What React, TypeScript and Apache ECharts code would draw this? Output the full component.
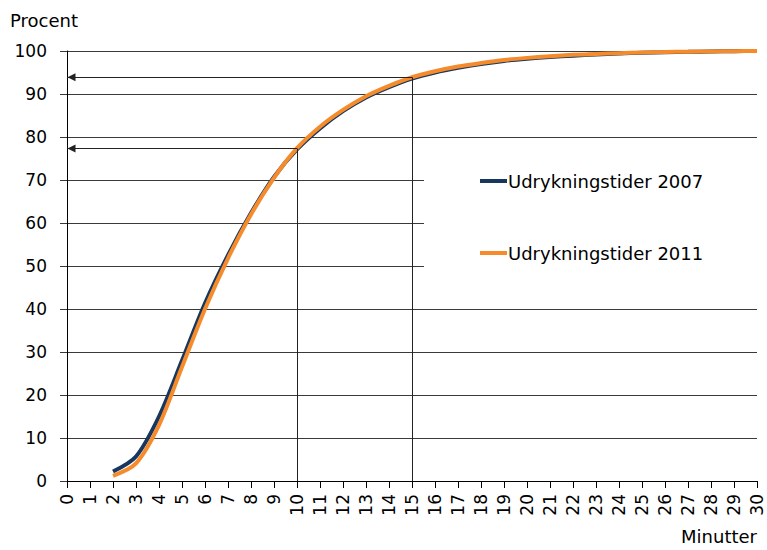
import React, { useEffect, useRef } from "react";
import * as echarts from "echarts";

const minutes = [2, 3, 4, 5, 6, 7, 8, 9, 10, 11, 12, 13, 14, 15, 16, 17, 18, 19, 20, 21, 22, 23, 24, 25, 26, 27, 28, 29, 30];
const times2007 = [2.2, 5.7, 15, 28, 41.3, 52.5, 62.3, 70.7, 77.1, 82, 86, 89.2, 91.6, 93.6, 95, 96.1, 97, 97.7, 98.2, 98.6, 98.9, 99.2, 99.4, 99.6, 99.7, 99.8, 99.9, 99.95, 100];
const times2011 = [1.2, 4.1, 13, 26.5, 40, 51.8, 62, 70.5, 77.4, 82.4, 86.3, 89.5, 91.9, 93.9, 95.3, 96.4, 97.2, 97.9, 98.4, 98.8, 99.1, 99.3, 99.5, 99.65, 99.75, 99.85, 99.9, 99.95, 100];
const seriesNames = ["Udrykningstider 2007", "Udrykningstider 2011"];
const markerMinutes = [10, 15];
const markerPercents = [77.3, 93.9];

const FONT = "DejaVu Sans";

export default function App() {
  const ref = useRef<HTMLDivElement>(null);
  useEffect(() => {
    if (!ref.current) return;
    const chart = echarts.init(ref.current, undefined, { renderer: "svg" });
    const markData: any[] = [];
    markerMinutes.forEach((m, i) => {
      markData.push([
        { coord: [m, markerPercents[i]], symbol: "none" },
        { coord: [m, 0], symbol: "none" },
      ]);
      markData.push([
        { coord: [m, markerPercents[i]], symbol: "none" },
        {
          coord: [0, markerPercents[i]],
          symbol: "triangle",
          symbolSize: [8, 8],
          symbolOffset: [0, 4.5],
        },
      ]);
    });
    chart.setOption({
      animation: false,
      grid: { left: 67, right: 10, top: 51, bottom: 69 },
      xAxis: {
        type: "value",
        min: 0,
        max: 30,
        interval: 1,
        axisLine: { show: true, lineStyle: { color: "#000", width: 1 } },
        axisTick: { show: true, length: 7, lineStyle: { color: "#000" } },
        splitLine: { show: false },
        axisLabel: { rotate: 90, fontSize: 17, color: "#000", fontFamily: FONT, margin: 13 },
      },
      yAxis: {
        type: "value",
        min: 0,
        max: 100,
        interval: 10,
        axisLine: { show: true, lineStyle: { color: "#000", width: 1 } },
        axisTick: { show: true, length: 7, lineStyle: { color: "#3a3a3a" } },
        splitLine: { show: true, lineStyle: { color: "#3a3a3a", width: 1 } },
        axisLabel: { fontSize: 17, color: "#000", fontFamily: FONT, margin: 20 },
      },
      legend: {
        orient: "vertical",
        left: 480,
        top: 172,
        padding: 0,
        itemGap: 54,
        icon: "rect",
        itemWidth: 27,
        itemHeight: 4,
        textStyle: { fontSize: 18, color: "#000", fontFamily: FONT, padding: [0, 0, 0, -4] },
        data: seriesNames,
      },
      graphic: [
        {
          type: "rect",
          z: 1,
          shape: { x: 424, y: 141, width: 340, height: 163 },
          style: { fill: "#fff" },
        },
        {
          type: "text",
          left: 10,
          top: 11,
          style: { text: "Procent", fontSize: 18, fill: "#000", fontFamily: FONT },
        },
        {
          type: "text",
          right: 10,
          top: 527,
          style: { text: "Minutter", fontSize: 18, fill: "#000", fontFamily: FONT },
        },
      ],
      series: [
        {
          name: seriesNames[0],
          type: "line",
          smooth: 0.3,
          symbol: "none",
          z: 3,
          lineStyle: { color: "#17375E", width: 4 },
          itemStyle: { color: "#17375E" },
          data: minutes.map((m, i) => [m, times2007[i]]),
          markLine: {
            silent: true,
            symbol: ["none", "none"],
            label: { show: false },
            lineStyle: { color: "#222", width: 1, type: "solid" },
            emphasis: { disabled: true },
            data: markData,
          },
        },
        {
          name: seriesNames[1],
          type: "line",
          smooth: 0.3,
          symbol: "none",
          z: 4,
          lineStyle: { color: "#F68B2C", width: 4 },
          itemStyle: { color: "#F68B2C" },
          data: minutes.map((m, i) => [m, times2011[i]]),
        },
      ],
    });
    return () => chart.dispose();
  }, []);
  return (
    <div
      ref={ref}
      style={{ position: "fixed", left: 0, top: 0, width: 767, height: 550, background: "#fff" }}
    />
  );
}
